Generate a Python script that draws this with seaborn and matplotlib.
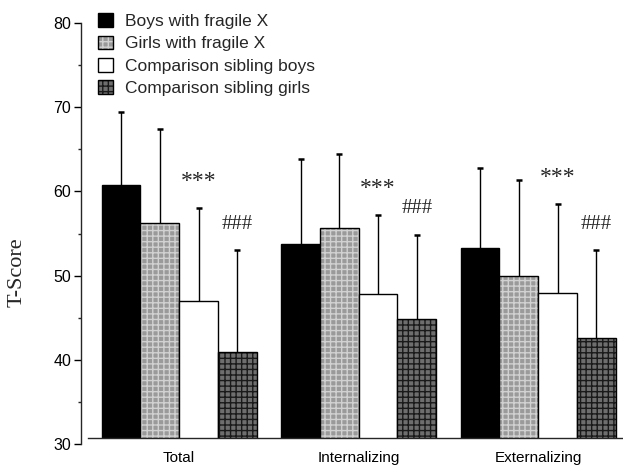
import numpy as np
import pandas as pd
import seaborn as sns
import matplotlib
matplotlib.use("Agg")
import matplotlib.pyplot as plt
from matplotlib.patches import Patch
from matplotlib.ticker import MultipleLocator

# ---------------- data ----------------
categories = ["Total", "Internalizing", "Externalizing"]
groups = ["Boys with fragile X", "Girls with fragile X",
          "Comparison sibling boys", "Comparison sibling girls"]
boys_fx = [60.7, 53.8, 53.3]
girls_fx = [56.3, 55.7, 50.0]
sib_boys = [47.0, 47.8, 47.9]
sib_girls = [41.0, 44.9, 42.6]
boys_fx_sd = [8.7, 10.0, 9.5]
girls_fx_sd = [11.1, 8.7, 11.3]
sib_boys_sd = [11.0, 9.4, 10.6]
sib_girls_sd = [12.0, 9.9, 10.4]
sig_sib_boys = ["***", "***", "***"]
sig_sib_girls = ["###", "###", "###"]
y_ticks = [30, 40, 50, 60, 70, 80]

means = [boys_fx, girls_fx, sib_boys, sib_girls]
sds = [boys_fx_sd, girls_fx_sd, sib_boys_sd, sib_girls_sd]
df = pd.DataFrame({
    "category": [c for g in groups for c in categories],
    "group": [g for g in groups for c in categories],
    "score": [v for vals in means for v in vals],
})

# ---------------- style ----------------
sns.set_style("ticks")
plt.rcParams["font.family"] = ["Liberation Sans", "DejaVu Sans"]
plt.rcParams["hatch.linewidth"] = 1.0

face = {"Boys with fragile X": "#000000",
        "Girls with fragile X": "#9a9a9a",
        "Comparison sibling boys": "#ffffff",
        "Comparison sibling girls": "#6e6e6e"}
hatches = {"Girls with fragile X": "+++",
           "Comparison sibling girls": "+++"}
hatch_col = {"Girls with fragile X": (1, 1, 1, 0.55),
             "Comparison sibling girls": (0.1, 0.1, 0.1, 1)}

fig = plt.figure(figsize=(6.23, 4.68), dpi=100)
ax = fig.add_axes([81 / 623, 23.7 / 468, 541 / 623, 421.5 / 468])

sns.barplot(data=df, x="category", y="score", hue="group",
            order=categories, hue_order=groups, palette=face,
            width=0.8635, edgecolor="black", linewidth=1.0,
            errorbar=None, legend=False, saturation=1, ax=ax)

ax.set_ylim(30, 80)
ax.set_xlim(-0.547, 2.467)

centers = {}
for gi, (grp, cont) in enumerate(zip(groups, ax.containers)):
    xs, tops = [], []
    for bar in cont:
        if grp in hatches:
            bar.set_hatch(hatches[grp])
            bar._hatch_color = hatch_col[grp]
        xs.append(bar.get_x() + bar.get_width() / 2)
        tops.append(bar.get_height())
    centers[grp] = (xs, tops)
    eb = ax.errorbar(xs, tops, yerr=[np.zeros(len(xs)), sds[gi]], fmt="none",
                     ecolor="black", elinewidth=1.0, capsize=2.5, capthick=1.8,
                     zorder=3)
    for cap in eb[1]:
        if np.allclose(cap.get_ydata(), tops):
            cap.set_visible(False)

# significance markers
for grp, labels, sd, fs in [("Comparison sibling boys", sig_sib_boys, sib_boys_sd, 17),
                            ("Comparison sibling girls", sig_sib_girls, sib_girls_sd, 15)]:
    xs, tops = centers[grp]
    for x, t, s, lab in zip(xs, tops, sd, labels):
        ax.annotate(lab, (x, t + s), xytext=(0, 19), textcoords="offset points",
                    ha="center", va="center", fontsize=fs,
                    family=["Liberation Serif", "DejaVu Serif"])

# baseline sits slightly above 30
base = 30.7
ax.axhspan(29, base, color="white", zorder=2.2, lw=0)
sns.despine(ax=ax)
ax.spines["bottom"].set_position(("data", base))
ax.spines["bottom"].set_bounds(-0.508, 2.467)
ax.spines["left"].set_linewidth(1.0)
ax.spines["bottom"].set_linewidth(1.0)

ax.set_yticks(y_ticks)
ax.yaxis.set_minor_locator(MultipleLocator(5))
ax.tick_params(axis="y", which="major", length=5, width=1, labelsize=11.5,
               pad=2, colors="black")
ax.tick_params(axis="y", which="minor", length=2.5, width=1)
ax.tick_params(axis="x", length=3, width=1, labelsize=11, pad=6,
               colors="black")
ax.set_xlabel("")
ax.set_ylabel("T-Score", fontsize=16, family=["Liberation Serif", "DejaVu Serif"])
ax.yaxis.set_label_coords(-0.100, 0.4076)

handles = []
for grp in groups:
    p = Patch(facecolor=face[grp], edgecolor="black", linewidth=1.0,
              hatch=hatches.get(grp))
    if grp in hatches:
        p._hatch_color = hatch_col[grp]
    handles.append(p)
leg = ax.legend(handles, groups, loc="upper left", bbox_to_anchor=(0.032, 1.023),
                frameon=False, fontsize=12.5, handlelength=0.83, handleheight=0.83,
                handletextpad=0.7, labelspacing=0.38, borderpad=0,
                borderaxespad=0)

fig.savefig("out.png", dpi=100)
